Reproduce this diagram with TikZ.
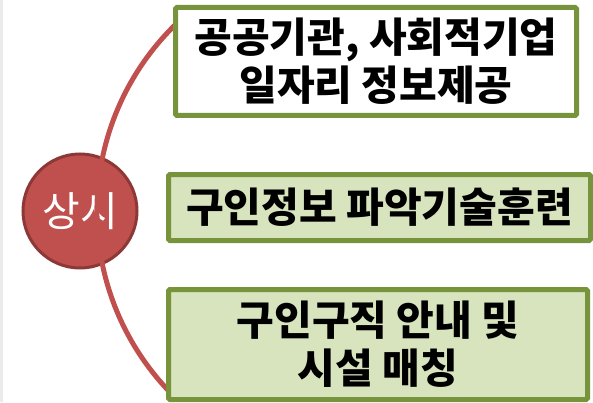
\documentclass[tikz,border=0pt]{standalone}
\usepackage{fontspec}
\newfontfamily\krfont{Noto Sans CJK KR}
\usepackage{tikz}
\usetikzlibrary{shapes}
\definecolor{boxgreen}{HTML}{77933C}
\definecolor{boxfill}{HTML}{D7E4BD}
\definecolor{hubred}{HTML}{C0504D}
\definecolor{hubrim}{HTML}{8C3836}
\tikzstyle{infobox}=[rectangle, draw=boxgreen, line width=5pt, rounded corners=1.5pt,% green frame
align=center, inner sep=0pt, font=\krfont\bfseries\fontsize{41}{48}\selectfont]
\tikzstyle{hub}=[circle, draw=hubrim, fill=hubred, line width=3pt, minimum size=114pt,% red disc
text=white, font=\krfont\fontsize{41}{44}\selectfont]
\tikzstyle{ring}=[draw=hubred, line width=5pt]

\begin{document}
\begin{tikzpicture}[x=1pt,y=1pt]
\useasboundingbox (0,0) rectangle (593,402);
\fill[black!8] (0,0) rectangle (3,402);
\node[hub] (hub) at (80,191) {상시};
\coordinate (ringtop) at (175,377);
\draw[ring] (ringtop) arc[start angle=134.5, end angle=223.3, radius=261];
\node[infobox, fill=white, minimum width=401pt, minimum height=108pt] (jobinfo) at (376,340.5) {공공기관, 사회적기업\\일자리 정보제공};
\node[infobox, fill=boxfill, minimum width=422pt, minimum height=66pt] (training) at (379.5,194.5) {구인정보 파악기술훈련};
\node[infobox, fill=boxfill, minimum width=419pt, minimum height=110pt] (matching) at (378,57.5) {구인구직 안내 및\\시설 매칭};
\end{tikzpicture}
\end{document}
